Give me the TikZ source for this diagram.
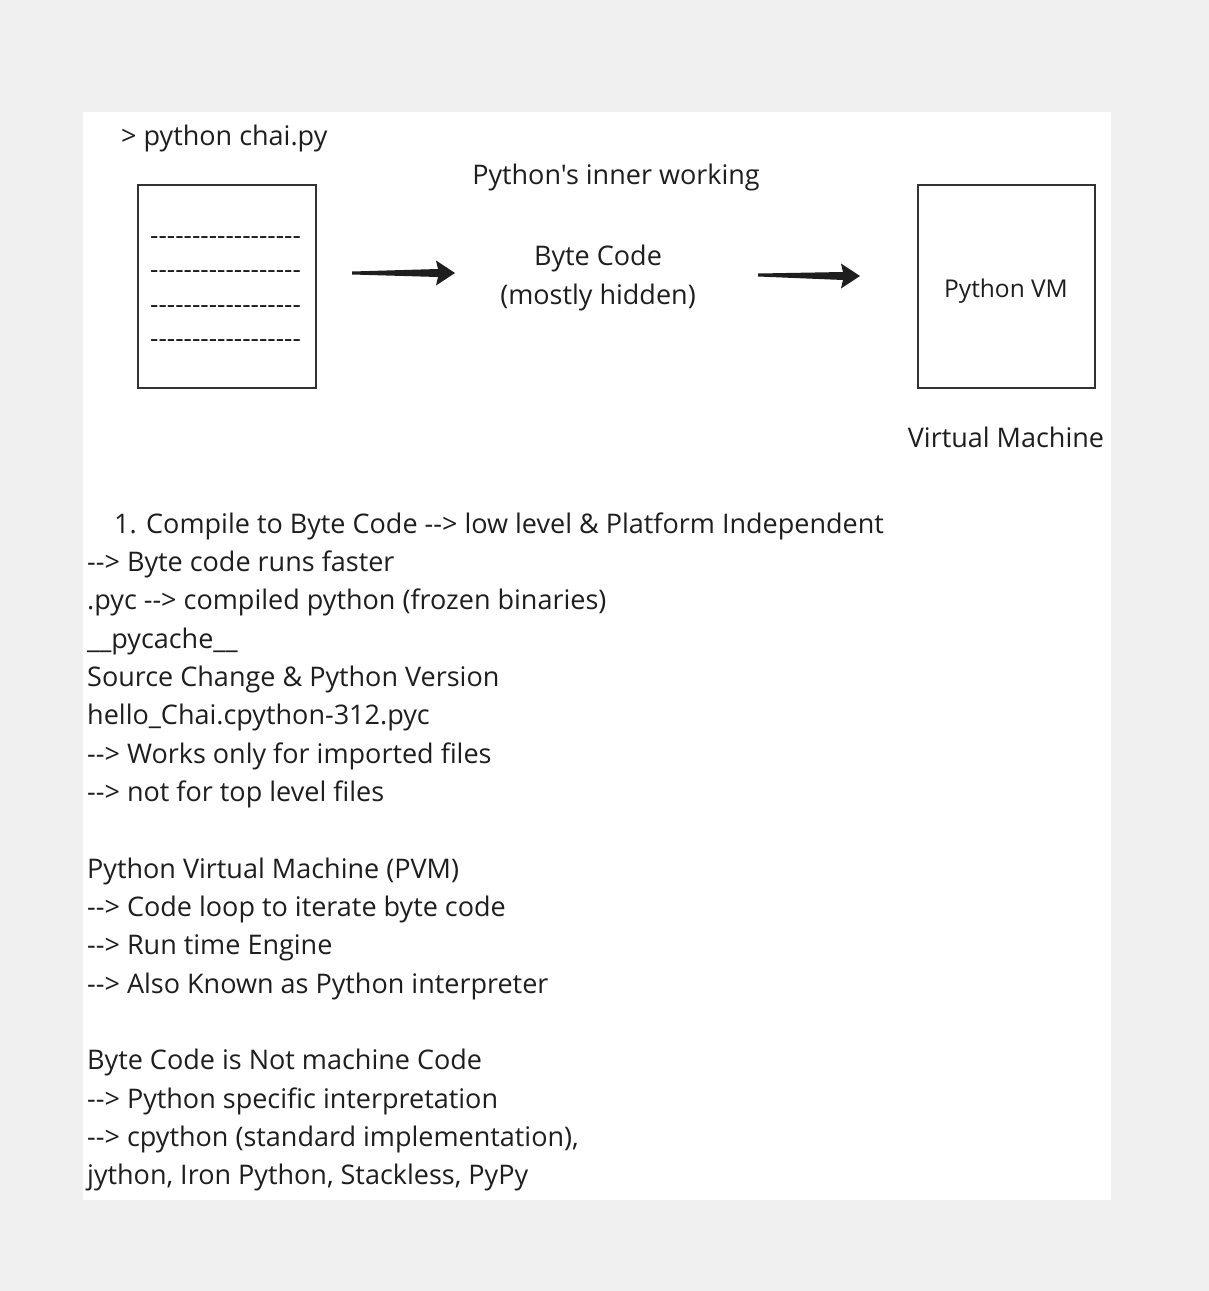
\documentclass[tikz,border=0pt]{standalone}
\usepackage{fontspec}
\newfontfamily\notefont{Open Sans}
\usetikzlibrary{calc}
\definecolor{inkgray}{RGB}{30,30,30}
\definecolor{boxgray}{RGB}{50,50,50}
\definecolor{canvasgray}{RGB}{240,240,240}

\begin{document}
\begin{tikzpicture}[x=1pt,y=-1pt,
    note/.style={font=\notefont\fontsize{27}{32}\selectfont, text=inkgray, inner sep=0pt},
    small note/.style={note, font=\notefont\fontsize{24.5}{30}\selectfont},
    dash note/.style={note, font=\notefont\fontsize{26}{30}\selectfont},
    sheet/.style={draw=boxgray, line width=2pt, fill=white, minimum height=203pt, inner sep=0pt}]
    % Canvas and white page
    \fill[canvasgray] (0,0) rectangle (1209,1291);
    \useasboundingbox (0,0) rectangle (1209,1291);
    \fill[white] (83,112) rectangle (1111,1200);

    % Command line and title
    \node[note, anchor=base west] (cmd) at (121,145) {> python chai.py};
    \node[note, anchor=base] (title) at (616,184) {Python's inner working};

    % Source file sheet
    \node[sheet, minimum width=178pt] (src) at (227,286.5) {};
    \foreach \y [count=\i] in {244,278,313,347}
        \node[dash note, anchor=base west] (dash\i) at (150,\y) {------------------};

    % Byte code (middle)
    \node[note, anchor=base] (bc) at (598,265) {Byte Code};
    \node[note, anchor=base] (bchid) at (598,304) {(mostly hidden)};

    % Virtual machine box
    \node[sheet, minimum width=177pt] (vm) at (1006.5,286.5) {};
    \node[small note, anchor=base] (vmtxt) at (1006,297) {Python VM};
    \node[note, anchor=base] (vmlbl) at (1006,447) {Virtual Machine};

    % Fat arrows
    \coordinate (a1s) at (352,273);
    \coordinate (a1e) at (455,273);
    \coordinate (a2s) at (758,275);
    \coordinate (a2e) at (860,276);
    \foreach \s/\e in {a1s/a1e,a2s/a2e}
        \fill[inkgray] ($(\s)+(0,-1.5)$) -- ($(\e)+(-17,-4)$) -- ($(\e)+(-19,-12.5)$) -- (\e)
            -- ($(\e)+(-19,12.5)$) -- ($(\e)+(-17,4)$) -- ($(\s)+(0,1.5)$) -- cycle;

    % Notes
    \node[note, anchor=base west] (ln0) at (114,533) {1. Compile to Byte Code --> low level \& Platform Independent};
    \foreach \k/\t in {1/--> Byte code runs faster,
                       2/.pyc --> compiled python (frozen binaries),
                       3/\_\_pycache\_\_,
                       4/Source Change \& Python Version,
                       5/hello\_Chai.cpython-312.pyc,
                       6/--> Works only for imported files,
                       7/--> not for top level files,
                       9/Python Virtual Machine (PVM),
                       10/--> Code loop to iterate byte code,
                       11/--> Run time Engine,
                       12/--> Also Known as Python interpreter,
                       14/Byte Code is Not machine Code,
                       15/--> Python specific interpretation,
                       16/{--> cpython (standard implementation),},
                       17/{jython, Iron Python, Stackless, PyPy}}
        \node[note, anchor=base west] (ln\k) at (87,533+38.35*\k) {\t};
\end{tikzpicture}
\end{document}
